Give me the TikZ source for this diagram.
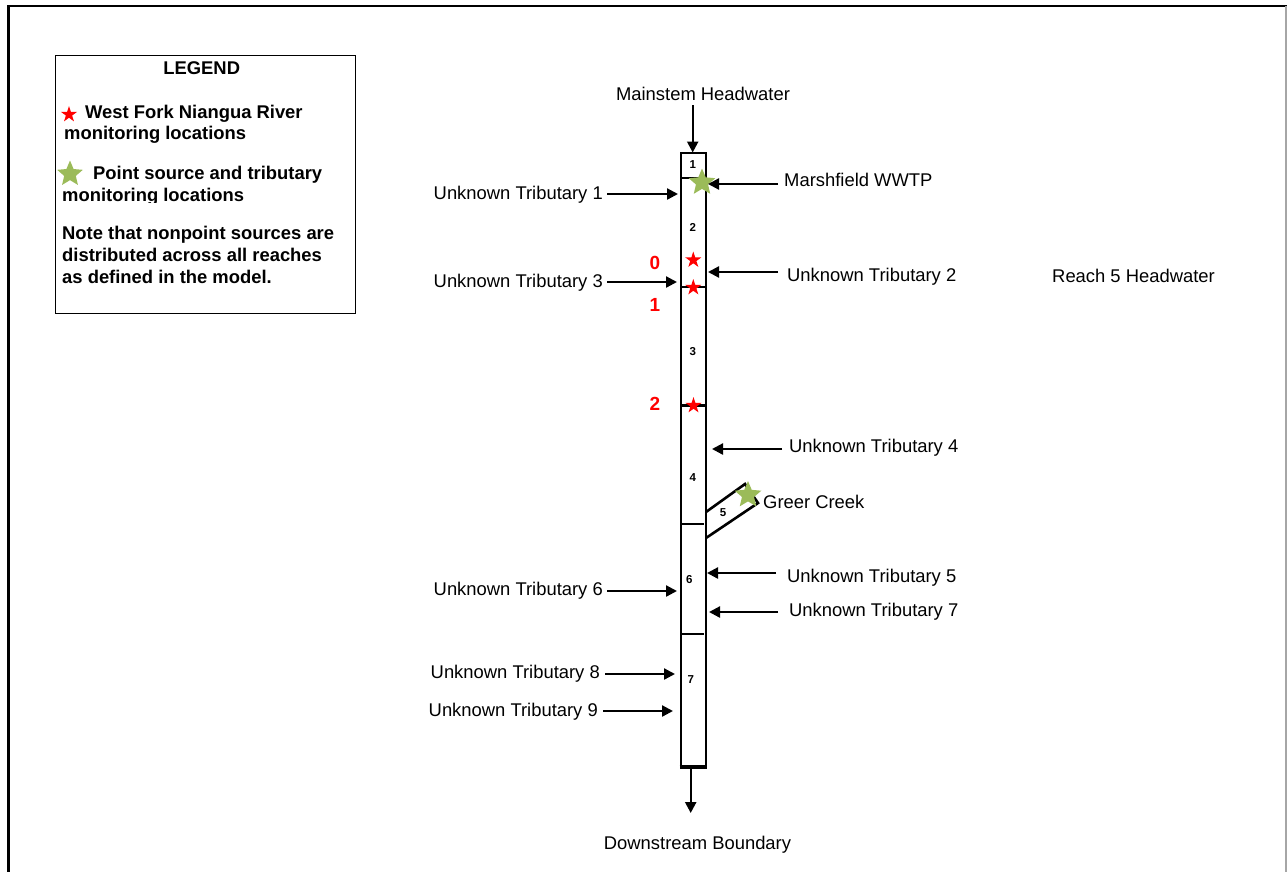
\documentclass[tikz,border=0pt]{standalone}
\usepackage{fontspec}
\setmainfont{Liberation Sans}
\usetikzlibrary{arrows.meta,shapes.geometric}
\definecolor{starred}{RGB}{255,0,0}
\definecolor{stargreen}{RGB}{155,187,89}
\begin{document}
\begin{tikzpicture}[x=1pt,y=-1pt,
 lbl/.style={inner sep=0pt, font=\fontsize{18.4}{22}\selectfont},
 blbl/.style={inner sep=0pt, font=\fontsize{18.4}{22}\selectfont\bfseries},
 rnum/.style={inner sep=0pt, font=\fontsize{11.5}{13}\selectfont\bfseries},
 mnum/.style={inner sep=0pt, text=starred, font=\fontsize{19}{22}\selectfont\bfseries},
 flow/.style={line width=2.3pt, -{Triangle[length=11pt,width=11pt]}},
 col/.style={line width=2.9pt},
 redstar/.style={star, star points=5, star point ratio=2.6, fill=starred, draw=none, minimum size=17pt, inner sep=0pt},
 greenstar/.style={star, star points=5, star point ratio=2.2, fill=stargreen, draw=none, minimum size=28pt, inner sep=0pt},
]
\useasboundingbox (0,0) rectangle (1287,871);
% frame
\draw[line width=2.8pt] (8.5,880) -- (8.5,6) -- (1287,6);
\draw[gray!70, line width=1.5pt] (1286.2,6) -- (1286.2,880);

% legend
\node[draw, line width=1.3pt, minimum width=300pt, minimum height=258pt, anchor=north west, inner sep=0pt] (legend) at (55,55) {};
\node[blbl, anchor=base] (lgt) at (201.7,74.6) {LEGEND};
\node[redstar] (lrs) at (69,114.5) {};
\node[blbl, anchor=base west] (lr1) at (85,118.3) {West Fork Niangua River};
\node[blbl, anchor=base west] (lr2) at (64,139.6) {monitoring locations};
\node[greenstar, minimum size=27pt] (lgs) at (70,174) {};
\node[blbl, anchor=base west] (lg1) at (93,179.6) {Point source and tributary};
\begin{scope}
\clip (55,185) rectangle (355,202.8);
\node[blbl, anchor=base west] (lg2) at (62,201.6) {monitoring locations};
\end{scope}
\node[blbl, anchor=base west] (ln1) at (62,239.8) {Note that nonpoint sources are};
\node[blbl, anchor=base west] (ln2) at (62,261.8) {distributed across all reaches};
\node[blbl, anchor=base west] (ln3) at (62,283.8) {as defined in the model.};

% river column
\coordinate (ctl) at (681,153);
\coordinate (ctr) at (706,153);
\coordinate (cbl) at (681,767);
\coordinate (cbr) at (706,767);
\draw[col] (cbl) -- (ctl) -- (ctr) -- (cbr);
\draw[line width=3.6pt] ([xshift=-1.4pt]cbl) -- ([xshift=1.4pt]cbr);
\draw[col] (681,178) -- (706,178);
\draw[col] (682,287) -- (706,287);
\draw[col] (682,405.5) -- (706,405.5);
\draw[col] (680,524) -- (704,524);
\draw[col] (680,634) -- (704,634);
% reach 5 branch
\coordinate (b1) at (706,512);
\coordinate (b2) at (745,484);
\coordinate (b3) at (758,503);
\coordinate (b4) at (706,538);
\draw[line width=2.6pt, line join=miter] (b1) -- (b2) -- (b3) -- (b4);

% reach numbers
\node[rnum] (r1) at (692.7,165) {1};
\node[rnum] (r2) at (692.7,227) {2};
\node[rnum] (r3) at (692.7,352) {3};
\node[rnum] (r4) at (692.7,478) {4};
\node[rnum] (r5) at (723,513) {5};
\node[rnum] (r6) at (689.3,579.5) {6};
\node[rnum] (r7) at (690.7,679.5) {7};

% monitoring stars
\node[redstar] (s0) at (693.3,260) {};
\node[redstar] (s1) at (693.3,287.5) {};
\node[redstar] (s2) at (693.5,405.5) {};
\node[mnum] (m0) at (655,262.5) {0};
\node[mnum] (m1) at (655,305) {1};
\node[mnum] (m2) at (655,403.5) {2};
\node[greenstar] (gm) at (702,182.5) {};
\node[greenstar] (gg) at (748,495) {};

% labels
\node[lbl, anchor=base] (mh) at (703,100.6) {Mainstem Headwater};
\node[lbl, anchor=base west] (mw) at (784,186.6) {Marshfield WWTP};
\node[lbl, anchor=base east] (t1) at (603,199.6) {Unknown Tributary 1};
\node[lbl, anchor=base east] (t3) at (603,287.6) {Unknown Tributary 3};
\node[lbl, anchor=base west] (t2) at (787,281.6) {Unknown Tributary 2};
\node[lbl, anchor=base west] (r5h) at (1052,282.3) {Reach 5 Headwater};
\node[lbl, anchor=base west] (t4) at (789,452.6) {Unknown Tributary 4};
\node[lbl, anchor=base west] (gc) at (763,508.3) {Greer Creek};
\node[lbl, anchor=base west] (t5) at (787,582.6) {Unknown Tributary 5};
\node[lbl, anchor=base west] (t7) at (789,616.6) {Unknown Tributary 7};
\node[lbl, anchor=base east] (t6) at (603,595.6) {Unknown Tributary 6};
\node[lbl, anchor=base east] (t8) at (600,678.3) {Unknown Tributary 8};
\node[lbl, anchor=base east] (t9) at (598,716.6) {Unknown Tributary 9};
\node[lbl, anchor=base] (db) at (697.5,849.3) {Downstream Boundary};

% arrows
\coordinate (amh1) at (692.7,105); \coordinate (amh2) at (692.7,152.5);
\coordinate (amw1) at (778,184); \coordinate (amw2) at (708,184);
\coordinate (at11) at (607,194); \coordinate (at12) at (678,194);
\coordinate (at31) at (607,282); \coordinate (at32) at (677,282);
\coordinate (at21) at (778,272); \coordinate (at22) at (708,272);
\coordinate (at41) at (782,449); \coordinate (at42) at (712,449);
\coordinate (at51) at (776,573); \coordinate (at52) at (707,573);
\coordinate (at71) at (778,612); \coordinate (at72) at (709,612);
\coordinate (at61) at (607,591); \coordinate (at62) at (677,591);
\coordinate (at81) at (605,674); \coordinate (at82) at (675,674);
\coordinate (at91) at (603,711); \coordinate (at92) at (673,711);
\coordinate (adb1) at (690.7,768); \coordinate (adb2) at (690.7,813);
\draw[flow] (amh1) -- (amh2);
\draw[flow] (amw1) -- (amw2);
\draw[flow] (at11) -- (at12);
\draw[flow] (at31) -- (at32);
\draw[flow] (at21) -- (at22);
\draw[flow] (at41) -- (at42);
\draw[flow] (at51) -- (at52);
\draw[flow] (at71) -- (at72);
\draw[flow] (at61) -- (at62);
\draw[flow] (at81) -- (at82);
\draw[flow] (at91) -- (at92);
\draw[flow] (adb1) -- (adb2);
\end{tikzpicture}
\end{document}
